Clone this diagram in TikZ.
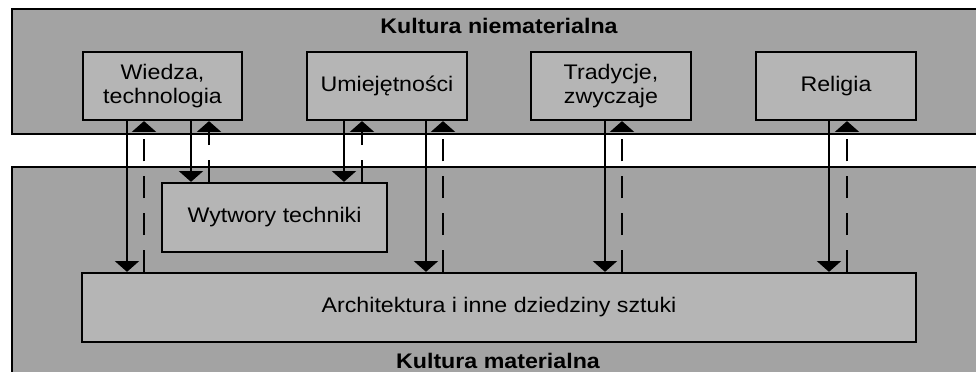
\documentclass[tikz,border=0pt]{standalone}
\usepackage{fontspec}
\setmainfont{Liberation Sans}[FakeStretch=1.1]
\usetikzlibrary{arrows.meta}

\definecolor{panelgray}{gray}{0.64}
\definecolor{boxgray}{gray}{0.71}

\tikzset{
  panel/.style={draw=black,line width=1.4pt,fill=panelgray},
  box/.style={draw=black,line width=1.6pt,fill=boxgray,align=center,inner sep=0pt,
    font=\fontsize{15}{16.5}\selectfont},
  title/.style={font=\bfseries\fontsize{15}{17}\selectfont},
  down/.style={line width=1.5pt,-{Triangle[width=0.6cm,length=0.27cm]}},
  up/.style={line width=1.5pt,dash pattern=on 0.55cm off 0.37cm,-{Triangle[width=0.6cm,length=0.27cm]}},
}

\begin{document}
\begin{tikzpicture}[x=0.025cm,y=-0.025cm]
            \useasboundingbox (0,0) rectangle (976,372);
            \clip (0,0) rectangle (976,372);
            % panels
            \draw[panel] (12,9) rectangle (995,134);
            \draw[panel] (12,167) rectangle (995,395);
            \node[title] (niemat) at (499,26) {Kultura niematerialna};
            \node[title] (mat) at (498,361) {Kultura materialna};
            % boxes
            \node[box,minimum width=3.975cm,minimum height=1.7cm] (wiedza) at (162.5,86) {Wiedza,\\technologia};
            \node[box,minimum width=4cm,minimum height=1.7cm] (umiej) at (387,86) {Umiejętności};
            \node[box,minimum width=4cm,minimum height=1.7cm] (trad) at (611,86) {Tradycje,\\zwyczaje};
            \node[box,minimum width=4cm,minimum height=1.7cm] (relig) at (836,86) {Religia};
            \node[box,minimum width=5.625cm,minimum height=1.725cm] (wytw) at (274.5,217.5) {Wytwory techniki};
            \node[box,minimum width=20.85cm,minimum height=1.725cm] (arch) at (499,307.5) {Architektura i inne dziedziny sztuki};
            % arrows
            \foreach \x/\from/\to in {127/wiedza/arch,191/wiedza/wytw,344/umiej/wytw,
                426/umiej/arch,605/trad/arch,829/relig/arch}
              \draw[down] (\from.south -| \x,0) -- (\to.north -| \x,0);
            \foreach \x/\from/\to in {144/arch/wiedza,209/wytw/wiedza,362/wytw/umiej,
                443/arch/umiej,622/arch/trad,847/arch/relig}
              \draw[up] (\from.north -| \x,0) -- (\to.south -| \x,0);
\end{tikzpicture}
\end{document}
